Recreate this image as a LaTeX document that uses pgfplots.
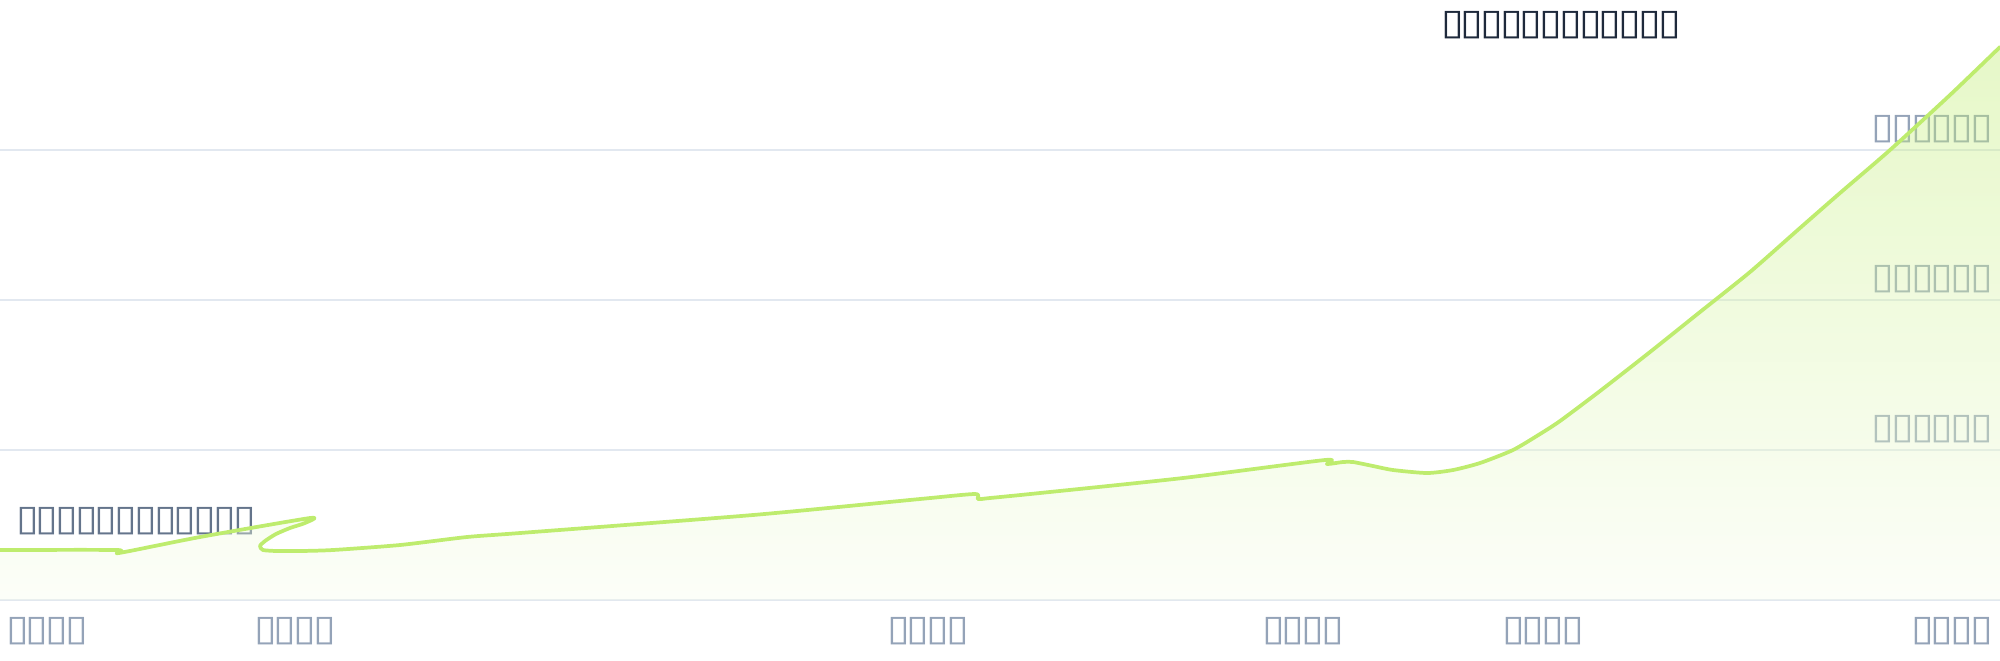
\documentclass[border=0pt]{standalone}
\usepackage{fontspec}
\setmainfont{DejaVu Sans}
\usepackage{pgfplots}
\pgfplotsset{compat=1.18}
\usepackage{pgfplotstable}

\definecolor{limeline}{RGB}{190,236,110}
\definecolor{gridc}{RGB}{226,232,240}
\definecolor{titlec}{RGB}{30,41,59}
\definecolor{notec}{RGB}{100,116,139}
\definecolor{tickc}{RGB}{148,163,184}
\newcommand\fs{\fontsize{13.5}{16}\selectfont}
% one missing-glyph box, as the reference shows its text
\newcommand\bx{\makebox[7.4pt][c]{\scalebox{1.15}[1]{▯}}}

% curve (x in px from left, y in px above the base line)
\pgfplotstableread{
x y
0 50
117 50
119 47
200 63
310 82
305 77
290 72
276 66
265 59
260 54
263 50
277 49
300 49
333 50
400 55
467 63
520 67
753 85
920 101
975 106
978 101
990 102
1040 107
1183 122
1325 140
1327 136
1343 138
1353 138
1373 134
1393 130
1427 127
1453 130
1480 137
1513 150
1540 166
1560 179
1600 209
1650 248
1700 288
1750 328
1800 372
1840 407
1890 450
1950 505
2000 553
}\curve

\begin{document}
\begin{tikzpicture}[x=0.375pt,y=0.375pt]
\useasboundingbox (0,-60) rectangle (2000,600);
\begin{axis}[
    at={(0,0)}, anchor=south west,
    scale only axis, width=750pt, height=225pt,
    xmin=0, xmax=2000, ymin=0, ymax=600,
    axis line style={draw=none},
    tick style={draw=none},
    major tick length=0pt,
    ytick={0,150,300,450},
    yticklabels={},
    ymajorgrids,
    grid style={draw=gridc, line width=0.5pt},
    xtick={47,295,928,1303,1543,1952},
    xticklabels={\bx\bx\bx\bx,\bx\bx\bx\bx,\bx\bx\bx\bx,\bx\bx\bx\bx,\bx\bx\bx\bx,\bx\bx\bx\bx},
    xticklabel style={anchor=base, yshift=-15pt, text=tickc, font=\fs},
    clip=false,
]
% labels first, so that the translucent area lies over them
\node[anchor=base west, text=titlec, font=\fs, inner sep=0pt] at (axis cs:1442,566) {\bx\bx\bx\bx\bx\bx\bx\bx\bx\bx\bx\bx};
\node[anchor=base west, text=notec, font=\fs, inner sep=0pt] at (axis cs:17,70) {\bx\bx\bx\bx\bx\bx\bx\bx\bx\bx\bx\bx};
\node[anchor=base east, text=tickc, font=\fs, inner sep=0pt] at (axis cs:1992,462) {\bx\bx\bx\bx\bx\bx};
\node[anchor=base east, text=tickc, font=\fs, inner sep=0pt] at (axis cs:1992,312) {\bx\bx\bx\bx\bx\bx};
\node[anchor=base east, text=tickc, font=\fs, inner sep=0pt] at (axis cs:1992,162) {\bx\bx\bx\bx\bx\bx};

\addplot[draw=none, smooth, tension=0.4, fill opacity=0.38, top color=limeline, bottom color=limeline!12!white]
    table {\curve} \closedcycle;
\addplot[limeline, smooth, tension=0.4, line width=1.4pt, line join=round, line cap=round]
    table {\curve};
\end{axis}
\end{tikzpicture}
\end{document}
